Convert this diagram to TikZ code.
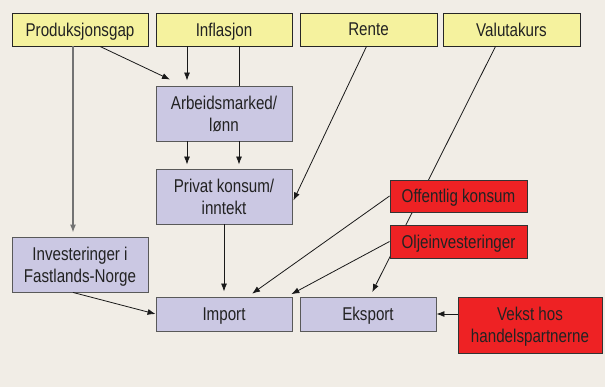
\documentclass[tikz,border=0pt]{standalone}
\usepackage{fontspec}
\setmainfont{Liberation Sans}[FakeStretch=0.82]
\usetikzlibrary{arrows.meta}

\definecolor{bgbeige}{HTML}{F1EDE6}
\definecolor{gulfarge}{HTML}{F5F29E}
\definecolor{lillafarge}{HTML}{CBC8E3}
\definecolor{roedfarge}{HTML}{EE2224}
\definecolor{tekstgraa}{HTML}{222222}

\tikzset{
  boks/.style={rectangle, align=center, text=tekstgraa, inner sep=2pt, text depth=0pt,
    font=\fontsize{18.5}{22}\selectfont, line width=0.9pt},
  drivkraft/.style={boks, draw=black!85, fill=gulfarge, minimum width=136pt, minimum height=33pt},
  ledd/.style={boks, draw=black!65, fill=lillafarge, minimum width=136pt},
  ytre/.style={boks, draw=black!80, fill=roedfarge, minimum width=137pt},
  pil/.style={-{Latex[length=8pt,width=6pt]}, line width=0.8pt, black!90},
  strek/.style={line width=0.8pt, black!90}
}

\begin{document}
\begin{tikzpicture}[x=1pt,y=-1pt]
% bakgrunn
\fill[bgbeige] (0,0) rectangle (605,387);
\useasboundingbox (0,0) rectangle (605,387);

% oeverste rad
\node[drivkraft] (prod) at (80,29.5) {Produksjonsgap};
\node[drivkraft] (infl) at (224,29.5) {Inflasjon};
\node[drivkraft, minimum width=137pt] (rente) at (368.5,29.5) {Rente};
\node[drivkraft, minimum width=137pt] (valuta) at (511.5,29.5) {Valutakurs};

% mellomledd
\node[ledd, minimum height=55pt] (arbeid) at (224,113.5) {Arbeidsmarked/\\lønn};
\node[ledd, minimum height=55pt] (privat) at (224,196.5) {Privat konsum/\\inntekt};
\node[ledd, minimum height=55pt] (invest) at (80,264.5) {Investeringer i\\Fastlands-Norge};
\node[ledd, minimum height=34pt] (import) at (224,314) {Import};
\node[ledd, minimum height=34pt] (eksport) at (368,314) {Eksport};

% valutakurs bak de roede boksene
\draw[pil, shorten >=5pt] ([xshift=-16pt]valuta.south) -- ([xshift=2pt]eksport.north);

% roede bokser
\node[ytre, minimum height=32pt] (off) at (458.5,196) {Offentlig konsum};
\node[ytre, minimum height=33pt] (olje) at (458.5,241.5) {Oljeinvesteringer};
\node[ytre, minimum width=144pt, minimum height=56pt] (vekst) at (530,325) {Vekst hos\\handelspartnerne};

% piler
\draw[pil, black!55, line width=1.2pt, shorten >=4pt] ([xshift=-7pt]prod.south) -- ([xshift=-7pt]invest.north);
\draw[pil] ([xshift=20pt]prod.south) -- ([xshift=-54pt,yshift=6pt]arbeid.north);
\draw[pil, shorten >=5pt] ([xshift=-37pt]infl.south) -- ([xshift=-37pt]arbeid.north);
\draw[strek] ([xshift=15pt]infl.south) -- ([xshift=15pt]arbeid.north);
\draw[pil, shorten >=4pt] ([xshift=-37pt]arbeid.south) -- ([xshift=-37pt]privat.north);
\draw[pil, shorten >=4pt] ([xshift=15pt]arbeid.south) -- ([xshift=15pt]privat.north);
\draw[pil] ([xshift=-2pt]rente.south) -- ([xshift=1pt,yshift=-4pt]privat.east);
\draw[pil, shorten >=5pt] (privat.south) -- (import.north);
\draw[pil, shorten >=5pt] (off.west) -- ([xshift=24pt]import.north);
\draw[pil, shorten >=5pt] (olje.west) -- ([xshift=63pt]import.north);
\draw[pil] ([xshift=-7pt]invest.south) -- (import.west);
\draw[pil] (eksport.east -| vekst.west) -- (eksport.east);
\end{tikzpicture}
\end{document}
